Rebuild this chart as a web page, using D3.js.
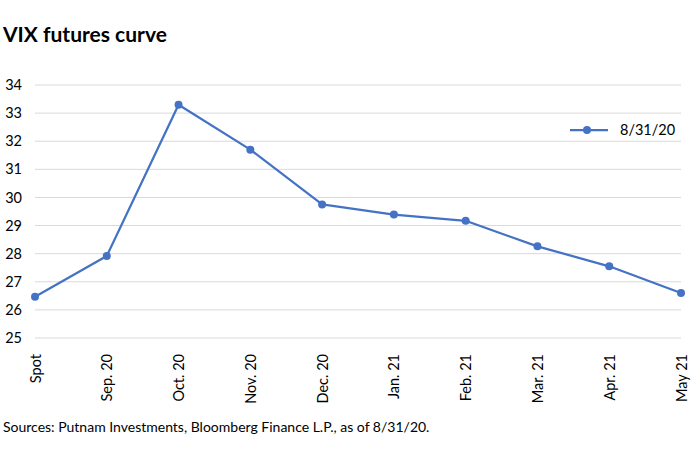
<!DOCTYPE html>
<html>
<head>
<meta charset="utf-8">
<script src="https://cdn.jsdelivr.net/npm/d3@7"></script>
<style>
  body { margin: 0; background: #fff; }
  text { font-family: Lato, "Noto Sans", sans-serif; fill: #000; }
</style>
</head>
<body>
<div id="chart"></div>
<script>
const categories = ['Spot', 'Sep. 20', 'Oct. 20', 'Nov. 20', 'Dec. 20', 'Jan. 21', 'Feb. 21', 'Mar. 21', 'Apr. 21', 'May 21'];
const values = [26.47, 27.92, 33.3, 31.7, 29.75, 29.39, 29.17, 28.26, 27.55, 26.6];
const yTicks = [25, 26, 27, 28, 29, 30, 31, 32, 33, 34];
const seriesName = '8/31/20';

const width = 700, height = 465;
const margin = {top: 85, right: 19, bottom: 127, left: 35};
const color = '#4472C4';

const svg = d3.select('#chart')
  .append('svg')
  .attr('width', width)
  .attr('height', height);

const x = d3.scalePoint()
  .domain(categories)
  .range([margin.left, width - margin.right]);

const y = d3.scaleLinear()
  .domain([25, 34])
  .range([height - margin.bottom, margin.top]);

// title
svg.append('text')
  .attr('x', 3)
  .attr('y', 42)
  .style('font-size', '21px')
  .style('font-weight', 'bold')
  .text('VIX futures curve');

// gridlines
svg.append('g')
  .selectAll('line')
  .data(yTicks)
  .enter()
  .append('line')
  .attr('x1', margin.left)
  .attr('x2', width - margin.right)
  .attr('y1', d => y(d))
  .attr('y2', d => y(d))
  .style('stroke', '#d9d9d9')
  .style('stroke-width', 1);

// y axis labels
const yAxis = svg.append('g')
  .attr('transform', `translate(${margin.left - 13},0)`)
  .call(d3.axisLeft(y).tickValues(yTicks).tickSize(0).tickPadding(0));
yAxis.select('.domain').remove();
yAxis.selectAll('text')
  .style('font-size', '14.5px')
  .style('font-family', 'Lato, "Noto Sans", sans-serif');

// x axis labels
const xAxis = svg.append('g')
  .attr('transform', `translate(0,${height - margin.bottom})`)
  .call(d3.axisBottom(x).tickSize(0).tickPadding(0));
xAxis.select('.domain').remove();
xAxis.selectAll('text')
  .style('font-size', '14.5px')
  .style('font-family', 'Lato, "Noto Sans", sans-serif')
  .attr('text-anchor', 'end')
  .attr('dy', '0.35em')
  .attr('transform', 'translate(0,16) rotate(-90)')
  .attr('x', 0)
  .attr('y', 0);

// line
const line = d3.line()
  .x((d, i) => x(categories[i]))
  .y(d => y(d));

svg.append('path')
  .datum(values)
  .attr('d', line)
  .style('fill', 'none')
  .style('stroke', color)
  .style('stroke-width', 2.25)
  .style('stroke-linejoin', 'round');

svg.append('g')
  .selectAll('circle')
  .data(values)
  .enter()
  .append('circle')
  .attr('cx', (d, i) => x(categories[i]))
  .attr('cy', d => y(d))
  .attr('r', 4)
  .style('fill', color);

// legend
const legend = svg.append('g').attr('transform', 'translate(570,130)');
legend.append('line')
  .attr('x1', 0).attr('x2', 38)
  .attr('y1', 0).attr('y2', 0)
  .style('stroke', color)
  .style('stroke-width', 2.25);
legend.append('circle')
  .attr('cx', 17).attr('cy', 0).attr('r', 4)
  .style('fill', color);
legend.append('text')
  .attr('x', 50)
  .attr('y', 0)
  .attr('dy', '0.35em')
  .style('font-size', '14.5px')
  .text(seriesName);

// source note
svg.append('text')
  .attr('x', 3)
  .attr('y', 432)
  .style('font-size', '14px')
  .text('Sources: Putnam Investments, Bloomberg Finance L.P., as of 8/31/20.');
</script>
</body>
</html>
